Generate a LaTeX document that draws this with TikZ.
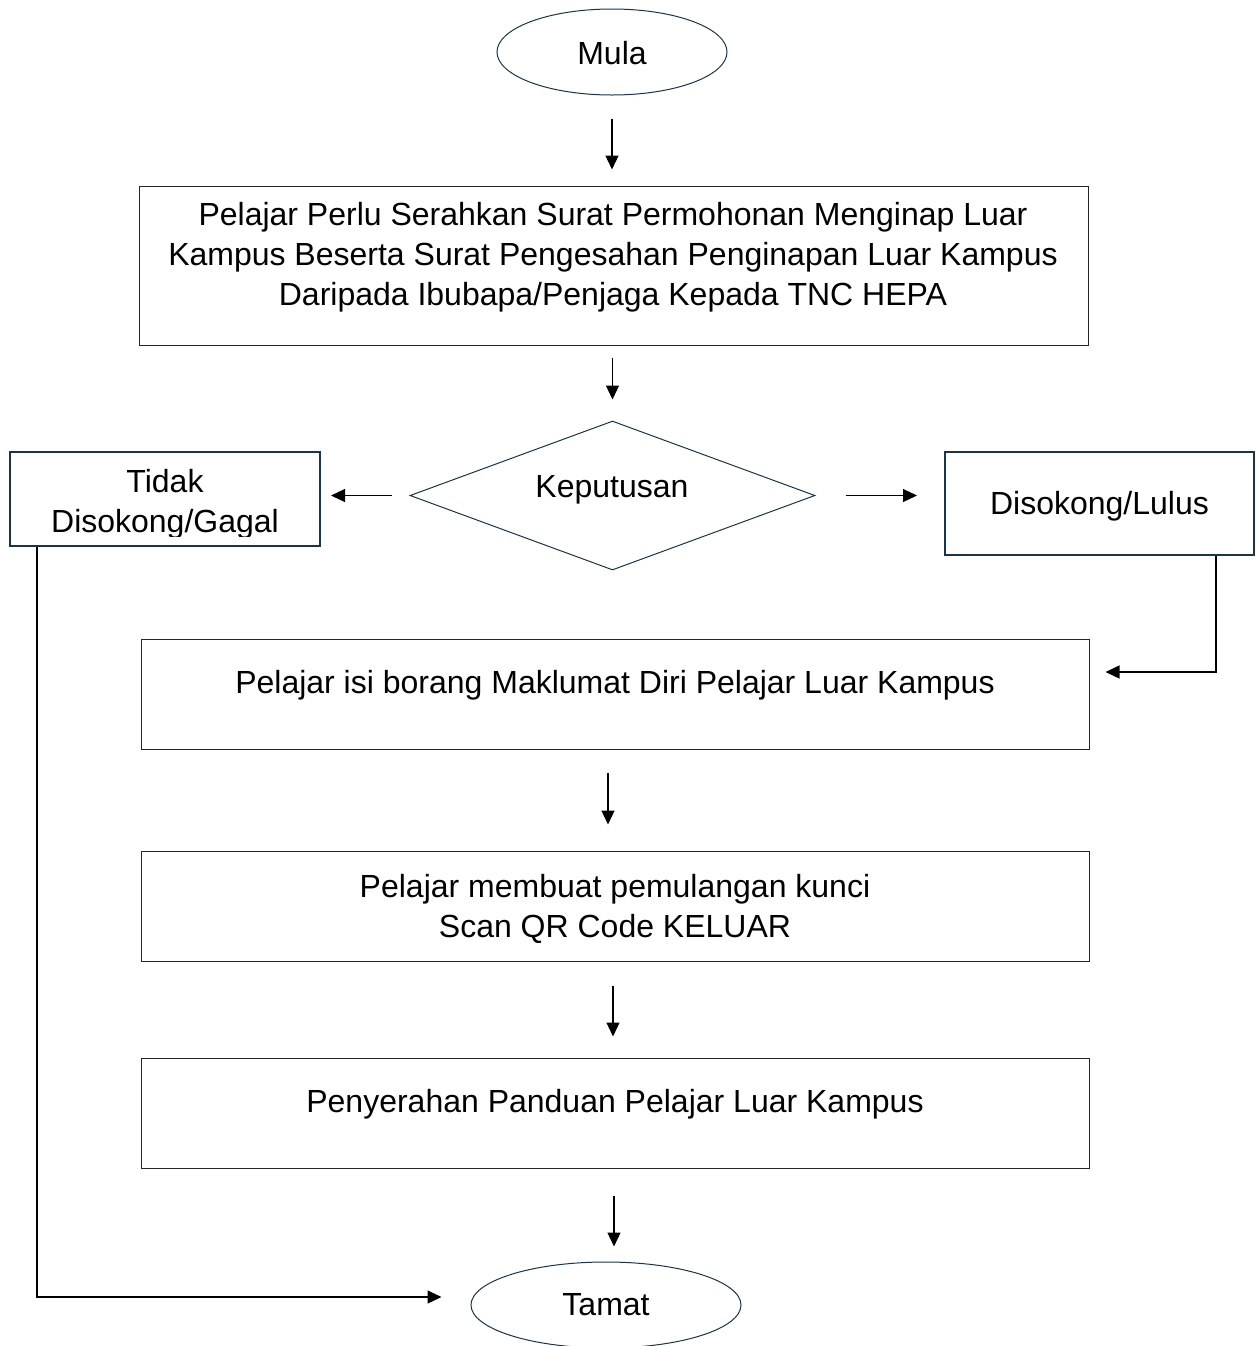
\documentclass[tikz,border=0pt]{standalone}
\usepackage{fontspec}
\setmainfont{Liberation Sans}
\usetikzlibrary{shapes.geometric,arrows.meta}
\definecolor{navy}{HTML}{1C3447}
\begin{document}
\begin{tikzpicture}[x=0.5pt,y=-0.5pt,
  every node/.style={font=\fontsize{16}{20}\selectfont},
  procbox/.style={draw=black!85,line width=0.5pt,inner sep=0pt,rectangle},
  decbox/.style={draw=navy,line width=1pt,inner sep=0pt,rectangle},
  term/.style={draw=navy,line width=0.5pt,ellipse,inner sep=0pt},
  txt/.style={align=center,inner sep=0pt},
  arr/.style={draw=black,line width=0.6pt,-{Triangle[length=7pt,width=6.5pt]}},
  ln/.style={draw=black!85,line width=0.5pt}]
\clip (0,0) rectangle (1256,1346);
\fill[white] (0,0) rectangle (1256,1346);

\node[term,minimum width=115pt,minimum height=43pt] (mula) at (612,52) {};
\node[txt] (tm) at (612,53) {Mula};
\node[procbox,minimum width=474.5pt,minimum height=79.5pt] (b1) at (613.5,265.5) {};
\node[txt] (t1) at (613,257) {Pelajar Perlu Serahkan Surat Permohonan Menginap Luar\\Kampus Beserta Surat Pengesahan Penginapan Luar Kampus\\Daripada Ibubapa/Penjaga Kepada TNC HEPA};
\node[draw=navy,line width=0.5pt,diamond,inner sep=0pt,minimum width=202.5pt,minimum height=74.5pt] (dia) at (612.5,495.5) {};
\node[txt] (tk) at (612,490) {Keputusan};
\node[decbox,minimum width=155pt,minimum height=47pt] (tidak) at (165,499) {};
\begin{scope}
\clip (10,452) rectangle (320,536);
\node[txt] (tt) at (165,504) {Tidak\\Disokong/Gagal};
\end{scope}
\node[decbox,minimum width=154.5pt,minimum height=51.5pt] (lulus) at (1099.5,503.5) {};
\node[txt] (tl) at (1099.5,506) {Disokong/Lulus};
\node[procbox,minimum width=474pt,minimum height=55pt] (b2) at (615,694) {};
\node[txt] (t2) at (615,685) {Pelajar isi borang Maklumat Diri Pelajar Luar Kampus};
\node[procbox,minimum width=474pt,minimum height=55pt] (b3) at (615,906) {};
\node[txt] (t3) at (615,909) {Pelajar membuat pemulangan kunci\\ Scan QR Code KELUAR};
\node[procbox,minimum width=474pt,minimum height=55pt] (b4) at (615,1113) {};
\node[txt] (t4) at (615,1104) {Penyerahan Panduan Pelajar Luar Kampus};
\node[term,minimum width=135pt,minimum height=43pt] (tamat) at (606,1305) {};
\node[txt] (tt2) at (606,1305) {Tamat};

% connectors
\draw[arr,shorten <=11.5pt,shorten >=8pt] (mula.south) -- (b1.north -| mula.south);
\draw[arr,shorten <=6pt,shorten >=10.5pt] (b1.south -| dia.north) -- (dia.north);
\draw[arr,shorten <=9pt,shorten >=5pt] (dia.west) -- (dia.west -| tidak.east);
\draw[arr,shorten <=15pt,shorten >=13.5pt] (dia.east) -- (dia.east -| lulus.west);
\draw[arr,shorten >=8pt] (lulus.south west) ++(272,0) |- ([shift={(0,-22)}]b2.east);
\draw[arr,shorten <=11.5pt,shorten >=13pt] ([xshift=-3.5pt]b2.south) -- ([xshift=-3.5pt]b3.north);
\draw[arr,shorten <=12pt,shorten >=10.5pt] ([xshift=-1pt]b3.south) -- ([xshift=-1pt]b4.north);
\draw[arr,shorten <=13.5pt,shorten >=7.5pt] ([xshift=-0.5pt]b4.south) -- ([xshift=-0.5pt]b4.south |- tamat.north);
\draw[arr,shorten >=14.5pt] (tidak.south west) ++(28,0) |- ([shift={(0,-8)}]tamat.west);
\end{tikzpicture}
\end{document}
